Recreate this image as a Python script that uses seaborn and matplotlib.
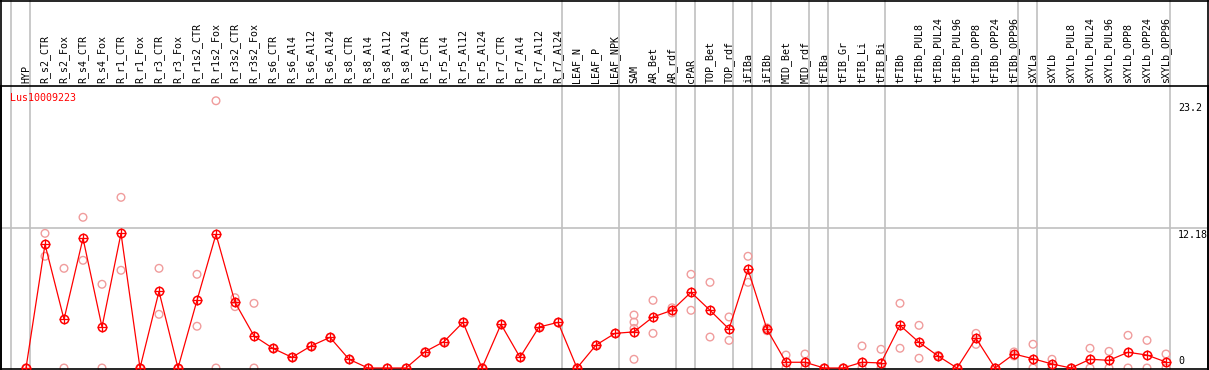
import matplotlib
matplotlib.use("Agg")
import matplotlib.pyplot as plt
import seaborn as sns
import pandas as pd
from matplotlib.lines import Line2D

sns.set_style("white")
plt.rcParams['font.family'] = ['DejaVu Sans Mono', 'DejaVu Sans']

## Data
gene = "Lus10009223"

samples = ["HYP", "R_s2_CTR", "R_s2_Fox", "R_s4_CTR", "R_s4_Fox", "R_r1_CTR", "R_r1_Fox",
           "R_r3_CTR", "R_r3_Fox", "R_r1s2_CTR", "R_r1s2_Fox", "R_r3s2_CTR", "R_r3s2_Fox",
           "R_s6_CTR", "R_s6_Al4", "R_s6_Al12", "R_s6_Al24", "R_s8_CTR", "R_s8_Al4",
           "R_s8_Al12", "R_s8_Al24", "R_r5_CTR", "R_r5_Al4", "R_r5_Al12", "R_r5_Al24",
           "R_r7_CTR", "R_r7_Al4", "R_r7_Al12", "R_r7_Al24", "LEAF_N", "LEAF_P", "LEAF_NPK",
           "SAM", "AR_Bet", "AR_rdf", "cPAR", "TOP_Bet", "TOP_rdf", "iFIBa", "iFIBb",
           "MID_Bet", "MID_rdf", "tFIBa", "tFIB_Gr", "tFIB_Li", "tFIB_Bi", "tFIBb",
           "tFIBb_PUL8", "tFIBb_PUL24", "tFIBb_PUL96", "tFIBb_OPP8", "tFIBb_OPP24",
           "tFIBb_OPP96", "sXYLa", "sXYLb", "sXYLb_PUL8", "sXYLb_PUL24", "sXYLb_PUL96",
           "sXYLb_OPP8", "sXYLb_OPP24", "sXYLb_OPP96"]

mean_values = [0, 10.78, 4.24, 11.31, 3.57, 11.74, 0, 6.68, 0, 5.90, 11.66, 5.73, 2.79,
               1.71, 0.93, 1.92, 2.67, 0.76, 0, 0, 0, 1.42, 2.30, 3.98, 0,
               3.81, 0.93, 3.57, 3.98, 0, 2.0, 3.02,
               3.15, 4.45, 5.03, 6.60, 5.03, 3.40, 8.60, 3.37,
               0.50, 0.50, 0, 0, 0.50, 0.44, 3.72,
               2.24, 1.05, 0, 2.59, 0, 1.22, 0.81, 0.35, 0, 0.76, 0.67,
               1.37, 1.13, 0.52]

replicates = [[0, 0], [11.74, 9.74], [8.69, 0], [13.14, 9.39], [7.30, 0], [14.88, 8.52], [0, 0],
              [8.69, 4.68], [0, 0], [8.17, 3.64], [23.3, 0], [6.13, 5.35], [5.64, 0],
              [1.71], [0.93], [1.92], [2.67], [0.76], [0], [0], [0], [1.42], [2.30], [3.98], [0],
              [3.81], [0.93], [3.57], [3.98], [0], [2.0], [3.02],
              [4.62, 4.0, 3.45, 0.76], [5.90, 3.02], [5.25, 4.80], [8.17, 5.03], [7.47, 2.70],
              [4.45, 2.41], [9.74, 7.47], [3.5, 3.25],
              [1.13, 0], [1.22, 0], [0, 0], [0, 0], [1.92, 0], [1.63, 0], [5.64, 1.72],
              [3.72, 0.85], [1.1, 1.0], [0, 0], [3.02, 2.06], [0, 0], [1.40, 1.05],
              [2.07, 0], [0.76, 0], [0, 0], [1.72, 0], [1.45, 0],
              [2.85, 0], [2.41, 0], [1.22, 0]]

# group separators: drawn just after these sample indices
group_ends = [-1, 0, 28, 31, 34, 35, 37, 38, 39, 41, 42, 45, 52, 53, 60]

y_ticks = [0, 12.18, 23.2]
y_tick_labels = ["0", "12.18", "23.2"]

df_mean = pd.DataFrame({"pos": range(len(samples)), "sample": samples, "value": mean_values})
rows = []
for i, reps in enumerate(replicates):
    for v in reps:
        rows.append({"pos": i, "value": v})
df_rep = pd.DataFrame(rows)

## Figure layout (pixel based)
W, H = 1209, 370
fig = plt.figure(figsize=(W / 100, H / 100), dpi=100)
top_px, bot_px = 86, 369
ax = fig.add_axes([1 / W, (H - bot_px) / H, 1207 / W, (bot_px - top_px) / H])

px_x = 19.0
xmin = -25 / px_x
ax.set_xlim(xmin, xmin + 1207 / px_x)
px_y = (368 - 228.3) / 12.18
ymin = -1 / px_y
ax.set_ylim(ymin, ymin + (bot_px - top_px) / px_y)

red = "#ff0000"
pink = "#f09c9c"
grey = "#c0c0c0"

# grid / separators
ax.axhline(12.18, color=grey, lw=1.2, zorder=0)
ext = 1 + top_px / (bot_px - top_px)
for k in group_ends:
    ax.axvline(k + 4 / px_x, ymin=0, ymax=ext, color=grey, lw=1.2, clip_on=False, zorder=0)

# replicates
for mk, ms, mew in [("o", 5.5, 1.0), ("+", 7.5, 0.8)]:
    sns.scatterplot(data=df_rep, x="pos", y="value", ax=ax, marker=mk, s=ms ** 2,
                    facecolors="none", edgecolors=pink, color=pink, linewidths=mew,
                    zorder=2, clip_on=False, legend=False)

# mean line
sns.lineplot(data=df_mean, x="pos", y="value", ax=ax, color=red, lw=0.9,
             marker="o", markersize=6, markerfacecolor="none", markeredgecolor=red,
             markeredgewidth=1.1, zorder=3, clip_on=False, legend=False)
ax.plot(df_mean["pos"], df_mean["value"], linestyle="none", marker="+", markersize=7.8,
        markeredgewidth=0.9, color=red, zorder=3, clip_on=False)

# tick labels on the right
lab_x = xmin + (1178 - 1) / px_x
for v, lab in zip(y_ticks, y_tick_labels):
    if v == 0:
        ax.text(lab_x, v + 1.5 / px_y, lab, fontsize=7.2, ha="left", va="bottom", color="black")
    else:
        ax.text(lab_x, v - 1.5 / px_y, lab, fontsize=7.2, ha="left", va="top", color="black")

# column labels above plot
for i, name in enumerate(samples):
    ax.text(i, 1 + 3 / (bot_px - top_px), name, rotation=90, ha="center", va="bottom",
            fontsize=7.2, color="black", transform=ax.get_xaxis_transform())

ax.text(9 / px_x + xmin, 23.5, gene, color=red, fontsize=7.2, ha="left", va="center")

ax.set_xticks([])
ax.set_yticks([])
ax.set_xlabel("")
ax.set_ylabel("")
for s in ax.spines.values():
    s.set_color("black")
    s.set_linewidth(1.2)

# outer border of the figure
fig.add_artist(Line2D([1 / W, 1 / W], [0, 1], color="black", lw=1.2, transform=fig.transFigure))
fig.add_artist(Line2D([1208 / W, 1208 / W], [0, 1], color="black", lw=1.2, transform=fig.transFigure))
fig.add_artist(Line2D([0, 1], [1 - 0.5 / H, 1 - 0.5 / H], color="black", lw=1.2, transform=fig.transFigure))

fig.savefig("out.png", dpi=100)
